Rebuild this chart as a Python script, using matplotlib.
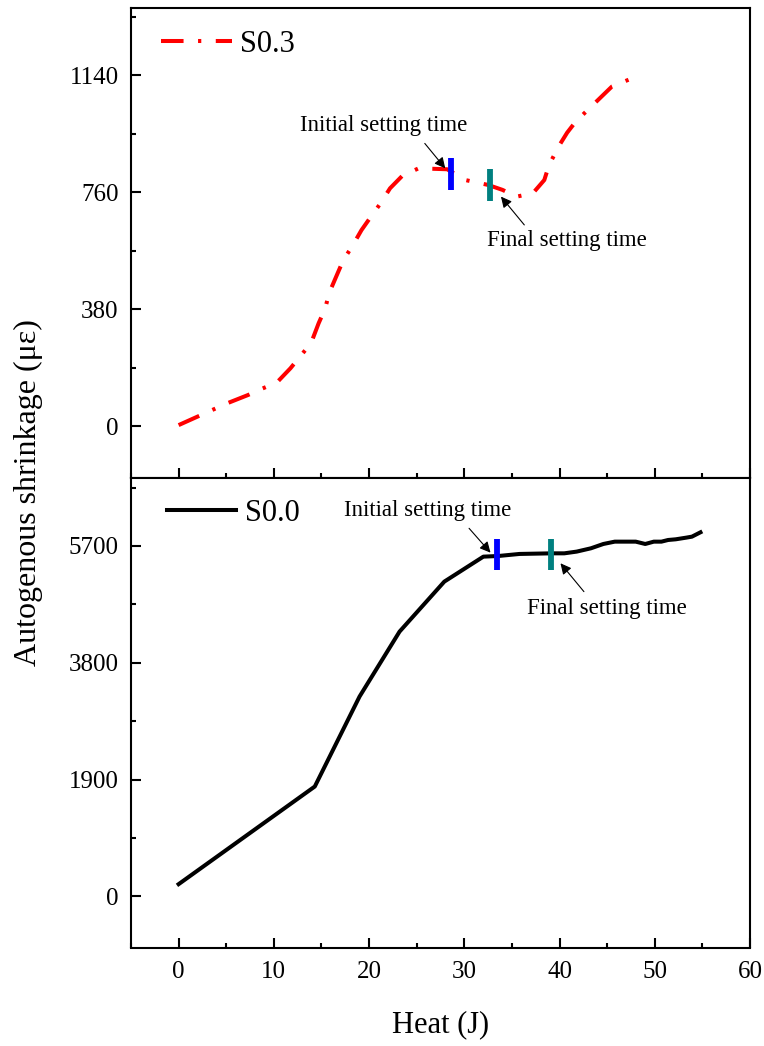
import numpy as np
import matplotlib
matplotlib.use('Agg')
import matplotlib.pyplot as plt
from matplotlib.ticker import MultipleLocator

plt.rcParams['font.family'] = ['Liberation Serif', 'DejaVu Serif']

# data
heat_s03 = [0, 5.1, 7.3, 8.8, 10.3, 11.75, 12.8, 13.9, 14.7, 15.4, 15.8, 16.7, 17.3, 18.2,
            19.2, 20.2, 21.2, 22.2, 23.5, 25.2, 28.2, 30.1, 32.5, 34.0, 35.5, 37.2, 38.4,
            38.9, 40.0, 40.8, 41.7, 43.4, 44.4, 45.5, 47.4]
shrink_s03 = [3, 74, 101, 122, 141, 188, 228, 269, 334, 383, 432, 497, 540, 583,
              637, 681, 724, 773, 814, 838, 835, 800, 784, 768, 746, 757, 800,
              849, 914, 954, 990, 1041, 1071, 1104, 1128]

heat_s00 = [0, 14.3, 19.0, 23.2, 27.9, 32.0, 33.6, 35.8, 39.2, 40.5, 41.8, 43.3, 44.6,
            45.8, 48.0, 49.0, 49.9, 50.7, 51.4, 52.2, 53.3, 53.9, 54.8]
shrink_s00 = [200, 1788, 3251, 4307, 5120, 5526, 5537, 5570, 5580, 5580, 5608, 5662, 5732,
              5770, 5770, 5732, 5770, 5770, 5797, 5808, 5835, 5851, 5922]

# setting time markers: (x, y_low, y_high)
init_s03 = (28.6, 768, 870); final_s03 = (32.75, 733, 835)
init_s00 = (33.45, 5310, 5815); final_s00 = (39.15, 5310, 5815)

top_ticks = [0, 380, 760, 1140]
bot_ticks = [0, 1900, 3800, 5700]

W, H = 764, 1046
fig = plt.figure(figsize=(W / 100, H / 100), dpi=100)
left = 131 / W; width = (750 - 131) / W
ax1 = fig.add_axes([left, 1 - 478 / H, width, (478 - 7.5) / H])
ax2 = fig.add_axes([left, 1 - 947.5 / H, width, (947.5 - 478) / H])

ax1.plot(heat_s03, shrink_s03, color='red', lw=2.9, dashes=(5.6, 3.6, 0.8, 3.6), label='S0.3')
ax2.plot(heat_s00, shrink_s00, color='black', lw=2.9, label='S0.0')

for ax, (xi, a, b), (xf, c, d) in [(ax1, init_s03, final_s03), (ax2, init_s00, final_s00)]:
    ax.plot([xi, xi], [a, b], color='#0000ff', lw=4.2, solid_capstyle='butt')
    ax.plot([xf, xf], [c, d], color='#008080', lw=4.2, solid_capstyle='butt')

arrow = dict(arrowstyle='-|>', color='black', lw=0.8, mutation_scale=16, shrinkA=0, shrinkB=0)
ax1.annotate('', xy=(28.0, 838), xytext=(25.85, 919), arrowprops=arrow)
ax1.text(21.5, 976, 'Initial setting time', fontsize=16.5, ha='center', va='center')
ax1.annotate('', xy=(33.85, 746), xytext=(36.3, 654), arrowprops=arrow)
ax1.text(40.8, 603, 'Final setting time', fontsize=16.5, ha='center', va='center')
ax2.annotate('', xy=(32.75, 5591), xytext=(30.5, 5987), arrowprops=arrow)
ax2.text(26.2, 6274, 'Initial setting time', fontsize=16.5, ha='center', va='center')
ax2.annotate('', xy=(40.1, 5418), xytext=(42.56, 4957), arrowprops=arrow)
ax2.text(45.0, 4676, 'Final setting time', fontsize=16.5, ha='center', va='center')

ax1.set_ylim(-169, 1361)
ax2.set_ylim(-830, 6805)
ax1.set_yticks(top_ticks)
ax2.set_yticks(bot_ticks)
ax1.yaxis.set_minor_locator(MultipleLocator(190))
ax2.yaxis.set_minor_locator(MultipleLocator(950))

for ax in (ax1, ax2):
    ax.set_xlim(-5, 60)
    ax.set_xticks(np.arange(0, 61, 10))
    ax.xaxis.set_minor_locator(MultipleLocator(5))
    ax.tick_params(which='both', direction='in', width=1.5, labelsize=18, top=False, right=False)
    ax.tick_params(which='major', length=7.2)
    ax.tick_params(which='minor', length=3.6)
    ax.tick_params(axis='y', pad=9)
    ax.tick_params(axis='x', pad=10)
    for s in ax.spines.values():
        s.set_linewidth(1.5)

ax1.tick_params(labelbottom=False)
ax2.set_xlabel('Heat (J)', fontsize=22, labelpad=19)

ax1.legend(loc='center left', bbox_to_anchor=(0.0485, 0.922), frameon=False, fontsize=22,
           handlelength=2.33, handletextpad=0.26, borderpad=0, borderaxespad=0)
ax2.legend(loc='center left', bbox_to_anchor=(0.058, 0.925), frameon=False, fontsize=22,
           handlelength=2.25, handletextpad=0.3, borderpad=0, borderaxespad=0)

fig.text(28.5 / W, 1 - 493 / H, 'Autogenous shrinkage (\u03bc\u03b5)', rotation=90,
         fontsize=23, ha='center', va='center')

fig.savefig('out.png', dpi=100)
